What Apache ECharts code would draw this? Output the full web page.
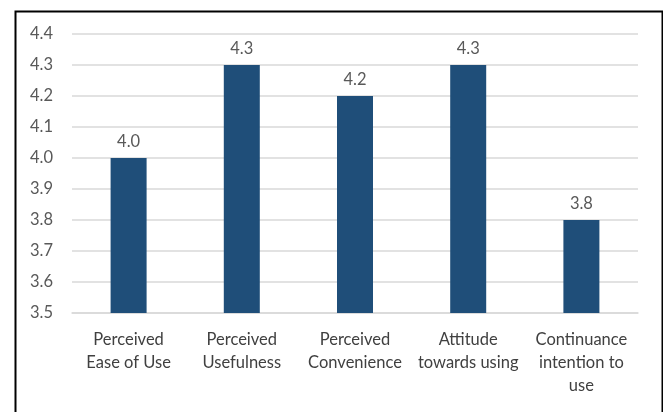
<!DOCTYPE html>
<html><head><meta charset="utf-8">
<script src="https://cdn.jsdelivr.net/npm/echarts@6/dist/echarts.min.js"></script>
<style>html,body{margin:0;padding:0;background:#fff}#c{width:663px;height:412px}</style>
</head><body><div id="c"></div>
<script>
const categories = ['Perceived\nEase of Use','Perceived\nUsefulness','Perceived\nConvenience','Attitude\ntowards using','Continuance\nintention to\nuse'];
const values = [4.0, 4.3, 4.2, 4.3, 3.8];
const yMin = 3.5, yMax = 4.4, yStep = 0.1;

const chart = echarts.init(document.getElementById('c'));
chart.setOption({
  animation: false,
  backgroundColor: '#fff',
  textStyle: { fontFamily: 'Lato, Liberation Sans, Arial, sans-serif' },
  graphic: [{
    type: 'rect', left: 13, top: 9, silent: true,
    shape: { width: 647, height: 410 },
    style: { fill: 'none', stroke: '#000', lineWidth: 2 }
  }],
  grid: { left: 72, right: 25, top: 34, bottom: 99 },
  xAxis: {
    type: 'category', data: categories,
    axisLine: { lineStyle: { color: '#d9d9d9', width: 1.5 } },
    axisTick: { show: false },
    axisLabel: { color: '#404040', fontSize: 16.5, lineHeight: 23, margin: 15, interval: 0 }
  },
  yAxis: {
    type: 'value', min: yMin, max: yMax, interval: yStep,
    axisLine: { show: false }, axisTick: { show: false },
    splitLine: { lineStyle: { color: '#d9d9d9', width: 1.5 } },
    axisLabel: { color: '#595959', fontSize: 16.5, margin: 19, formatter: v => v.toFixed(1) }
  },
  series: [{
    type: 'bar', data: values, barWidth: 36,
    itemStyle: { color: '#1f4e79' },
    label: { show: true, position: 'top', distance: 8, color: '#595959', fontSize: 16.5, formatter: p => p.value.toFixed(1) }
  }]
});
</script></body></html>
